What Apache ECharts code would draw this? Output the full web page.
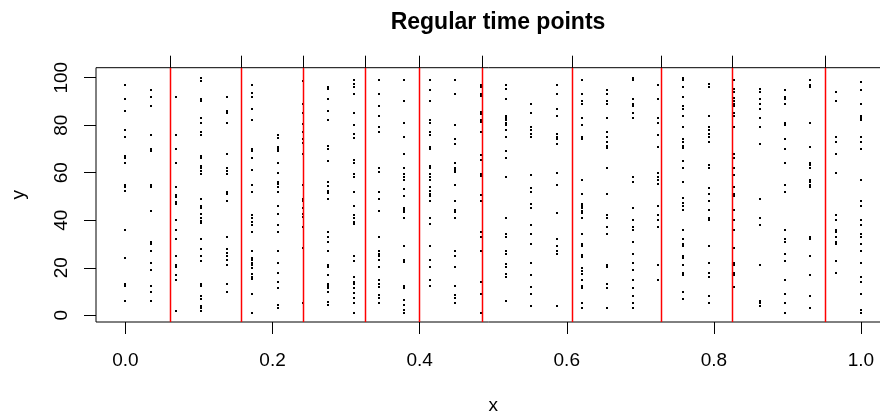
<!DOCTYPE html>
<html>
<head>
<meta charset="utf-8">
<script src="https://cdn.jsdelivr.net/npm/echarts@6/dist/echarts.min.js"></script>
<style>
  html, body { margin: 0; padding: 0; background: #fff; }
  #main { width: 880px; height: 414px; }
</style>
</head>
<body>
<div id="main"></div>
<script>
// 时间点 (列的位置)
const colX = [0.000, 0.0345, 0.069, 0.1034, 0.1379, 0.1724, 0.2069, 0.2414, 0.2759, 0.3103,
  0.3448, 0.3793, 0.4138, 0.4483, 0.4828, 0.5172, 0.5517, 0.5862, 0.6207, 0.6552,
  0.6897, 0.7241, 0.7586, 0.7931, 0.8276, 0.8621, 0.8966, 0.931, 0.9655, 1.000];

// 每一列的 y 值
const colY = [
  [96.9, 91.0, 86.0, 78.0, 75.2, 67.2, 66.3, 64.2, 55.0, 54.0, 52.2, 36.0, 24.3, 13.3, 12.2, 6.0],
  [95.0, 91.9, 88.1, 75.9, 70.0, 69.1, 54.8, 54.1, 44.0, 30.7, 29.9, 27.2, 22.2, 19.1, 12.2, 10.0, 6.0],
  [91.9, 75.9, 70.0, 64.2, 54.0, 50.6, 49.9, 47.8, 46.8, 40.2, 36.0, 32.2, 25.1, 21.2, 20.2, 17.0, 15.0, 1.8],
  [100.0, 98.6, 91.0, 90.3, 83.2, 81.1, 77.3, 75.9, 67.2, 66.3, 63.0, 61.9, 60.7, 59.3, 49.0, 46.2, 45.3,
    42.5, 40.8, 39.7, 38.7, 32.2, 27.9, 25.1, 23.0, 13.3, 12.2, 8.3, 6.9, 4.1, 3.2, 1.8],
  [91.9, 86.0, 85.2, 81.1, 68.0, 62.1, 60.7, 59.3, 52.0, 51.2, 48.2, 33.1, 27.9, 26.1, 25.1, 23.1, 21.2, 13.3, 10.0],
  [96.9, 93.7, 91.9, 86.8, 82.2, 70.0, 69.1, 66.2, 61.2, 54.8, 52.0, 42.4, 40.8, 39.4, 38.0, 35.2, 27.0,
    24.3, 23.1, 22.1, 21.2, 19.8, 17.2, 16.3, 15.3, 9.1, 0.9],
  [75.9, 74.8, 71.0, 70.0, 69.1, 64.2, 59.9, 56.2, 55.1, 54.1, 52.0, 46.0, 42.8, 38.0, 35.2, 27.0, 22.1,
    17.9, 14.2, 11.4, 4.3, 3.2],
  [98.6, 88.9, 85.3, 80.4, 77.3, 74.1, 72.4, 67.9, 54.8, 48.8, 48.1, 45.3, 42.5, 41.2, 37.3, 28.2, 5.0],
  [96.2, 95.1, 91.0, 86.1, 82.3, 71.1, 70.1, 64.9, 56.2, 54.6, 52.3, 51.3, 49.0, 35.2, 33.1, 31.0, 27.0,
    21.2, 20.2, 17.0, 13.3, 12.3, 11.4, 10.0, 5.5, 4.3],
  [99.2, 97.2, 96.2, 93.1, 85.3, 80.1, 76.2, 74.5, 65.2, 64.2, 59.3, 58.3, 52.0, 46.0, 42.2, 40.8, 39.4,
    38.3, 25.1, 23.0, 16.3, 14.2, 13.2, 11.4, 9.2, 7.1, 5.0, 1.1],
  [99.2, 93.1, 88.1, 83.9, 79.1, 77.3, 62.1, 60.2, 52.0, 49.0, 44.0, 33.1, 27.0, 25.9, 24.8, 23.1, 20.2,
    15.0, 13.3, 11.8, 8.5, 7.1, 5.2],
  [99.2, 90.3, 80.9, 75.2, 68.0, 62.1, 59.3, 58.3, 57.1, 53.2, 50.3, 45.3, 44.3, 43.3, 41.1, 29.3, 23.1,
    22.3, 12.2, 11.4, 6.3, 4.3, 2.1, 1.1],
  [99.2, 95.0, 90.3, 82.3, 81.1, 77.3, 75.9, 71.0, 70.0, 63.0, 62.1, 59.3, 58.3, 57.1, 54.1, 52.3, 51.2,
    50.3, 48.2, 40.8, 38.3, 29.3, 23.1, 20.2, 15.0, 12.2],
  [99.2, 93.1, 80.2, 74.2, 72.2, 64.2, 62.1, 61.2, 60.2, 55.0, 48.2, 44.3, 43.3, 41.1, 27.2, 25.0, 20.2,
    12.2, 8.5, 7.1, 5.2],
  [96.9, 95.9, 93.1, 92.2, 85.7, 84.9, 82.3, 81.2, 77.3, 67.5, 65.4, 59.5, 58.5, 50.6, 48.2, 35.2, 33.1,
    27.0, 14.2, 9.1, 1.1],
  [96.9, 95.1, 91.0, 83.9, 82.9, 82.1, 80.8, 80.1, 78.1, 75.2, 69.1, 66.3, 58.3, 41.1, 34.3, 33.1, 27.2,
    25.9, 21.4, 20.3, 17.4, 16.3, 6.0],
  [88.9, 85.1, 79.1, 78.1, 76.3, 75.2, 59.2, 53.4, 52.0, 47.0, 45.3, 38.0, 34.2, 30.1, 22.1, 17.0, 12.0, 9.1, 4.1],
  [96.9, 93.1, 87.0, 83.9, 76.2, 75.2, 74.2, 72.2, 60.0, 55.0, 43.2, 32.2, 29.2, 27.2, 25.9, 4.1],
  [99.2, 93.1, 90.3, 89.1, 83.2, 80.2, 75.2, 74.2, 56.9, 51.2, 47.0, 46.1, 45.0, 44.0, 42.9, 41.1, 34.3,
    30.1, 29.2, 25.4, 24.4, 19.8, 18.8, 17.4, 15.0, 12.2, 11.4, 5.2, 3.2],
  [95.0, 93.1, 90.3, 89.1, 83.2, 77.3, 75.2, 73.1, 71.2, 70.3, 62.0, 51.2, 42.2, 41.1, 37.2, 34.3, 21.2,
    20.2, 13.3, 11.4, 3.2],
  [100.0, 99.2, 91.0, 88.9, 88.1, 85.0, 83.2, 58.2, 56.2, 45.3, 40.2, 37.2, 36.0, 31.0, 25.9, 22.1, 19.1,
    15.0, 11.4, 8.3, 5.2, 3.2],
  [96.9, 91.0, 83.2, 81.1, 75.9, 71.0, 60.0, 58.3, 57.1, 55.1, 46.1, 42.2, 40.2, 37.2, 21.2, 15.0],
  [100.0, 99.2, 96.2, 91.9, 88.1, 87.0, 83.9, 79.1, 74.2, 73.1, 71.2, 70.3, 65.1, 62.1, 56.2, 49.2, 47.1,
    46.1, 44.2, 36.0, 32.2, 30.1, 29.2, 25.1, 24.1, 21.2, 17.9, 17.0, 10.0, 7.0],
  [97.2, 95.9, 83.9, 79.1, 77.8, 76.2, 74.9, 73.1, 63.1, 62.1, 53.4, 51.2, 48.2, 44.2, 41.1, 40.2, 29.2,
    22.1, 17.9, 16.1, 8.3, 5.2],
  [99.2, 95.1, 94.1, 91.3, 90.3, 89.1, 88.1, 85.3, 83.9, 79.1, 68.0, 66.3, 62.1, 59.2, 54.1, 51.2, 50.3,
    44.2, 40.2, 36.0, 28.2, 22.1, 21.2, 17.9, 17.0, 12.0],
  [95.1, 94.1, 91.0, 89.1, 87.0, 83.0, 79.1, 72.1, 49.0, 41.1, 38.0, 21.2, 6.0, 5.0, 4.1],
  [95.0, 91.9, 91.0, 89.1, 81.1, 80.1, 74.2, 70.0, 64.2, 55.0, 52.0, 36.0, 32.2, 31.0, 25.9, 23.0, 15.0,
    9.1, 5.2, 1.1],
  [99.2, 96.9, 96.2, 81.1, 71.0, 64.2, 63.1, 62.1, 56.9, 55.9, 54.8, 54.1, 33.1, 32.2, 25.0, 17.0, 8.3, 3.2],
  [94.1, 90.2, 75.2, 73.1, 68.0, 60.0, 42.2, 40.2, 36.0, 35.2, 33.1, 31.0, 30.1, 23.0, 17.9],
  [98.3, 95.0, 89.1, 83.9, 83.0, 82.2, 75.2, 73.1, 70.0, 56.9, 48.2, 46.1, 40.2, 38.1, 34.2, 33.1, 30.1,
    27.2, 22.1, 16.3, 14.2, 9.1, 2.1, 1.1]
];

// 红色分割线的位置
const cutX = [0.0612, 0.1578, 0.2416, 0.326, 0.3986, 0.4843, 0.6076, 0.7283, 0.824, 0.9514];

// 坐标轴刻度
const xTicks = [0, 0.2, 0.4, 0.6, 0.8, 1.0];
const yTicks = [0, 20, 40, 60, 80, 100];

const points = [];
colX.forEach((x, i) => {
  for (let y of colY[i]) points.push([x, y]);
});

const font = "'Liberation Sans', Arial, Helvetica, sans-serif";
const chart = echarts.init(document.getElementById('main'), null, { renderer: 'canvas' });

const option = {
  animation: false,
  backgroundColor: '#fff',
  title: {
    text: 'Regular time points',
    left: 493,
    top: 6,
    textAlign: 'center',
    textStyle: { fontFamily: font, fontSize: 23, fontWeight: 'bold', color: '#000' }
  },
  grid: {
    left: 96, top: 67.7, width: 794.4, height: 254.3,
    outerBoundsMode: 'none',
    containLabel: false,
    show: true, borderColor: '#000', borderWidth: 1, backgroundColor: 'transparent'
  },
  xAxis: {
    type: 'value', min: -0.04, max: 1.04,
    name: 'x', nameLocation: 'middle', nameGap: 74,
    nameTextStyle: { fontFamily: font, fontSize: 19, color: '#000' },
    splitLine: { show: false },
    axisLine: { show: false, onZero: false },
    axisTick: { show: true, customValues: xTicks, length: 12, lineStyle: { color: '#000' } },
    axisLabel: {
      customValues: xTicks, margin: 29,
      fontFamily: font, fontSize: 19, color: '#000',
      formatter: v => v.toFixed(1)
    }
  },
  yAxis: {
    type: 'value', min: -2.82, max: 104.2,
    name: 'y', nameLocation: 'middle', nameGap: 68, nameRotate: 90,
    nameTextStyle: { fontFamily: font, fontSize: 19, color: '#000' },
    splitLine: { show: false },
    axisLine: { show: false, onZero: false },
    axisTick: { show: true, customValues: yTicks, length: 12, lineStyle: { color: '#000' } },
    axisLabel: {
      customValues: yTicks, margin: 25, rotate: 90,
      fontFamily: font, fontSize: 19, color: '#000'
    }
  },
  series: [
    {
      // 点：对齐到整像素，避免发灰
      type: 'custom',
      silent: true,
      data: points,
      renderItem: (params, api) => {
        const p = api.coord([api.value(0), api.value(1)]);
        return {
          type: 'rect',
          shape: { x: Math.round(p[0]) - 1, y: Math.round(p[1]) - 1, width: 2, height: 2 },
          style: { fill: '#000' }
        };
      }
    },
    {
      // 分割线：框内红色，框上方一小段黑色
      type: 'custom',
      clip: false,
      silent: true,
      z: 5,
      data: cutX.map(x => [x]),
      renderItem: (params, api) => {
        const cs = params.coordSys;
        const px = Math.round(api.coord([api.value(0), 0])[0]) + 0.5;
        return {
          type: 'group',
          children: [
            { type: 'line', shape: { x1: px, y1: cs.y + cs.height, x2: px, y2: cs.y },
              style: { stroke: '#ff0000', lineWidth: 1.5 } },
            { type: 'line', shape: { x1: px, y1: cs.y, x2: px, y2: cs.y - 12 },
              style: { stroke: '#000', lineWidth: 1 } }
          ]
        };
      }
    }
  ]
};
chart.setOption(option);
</script>
</body>
</html>
